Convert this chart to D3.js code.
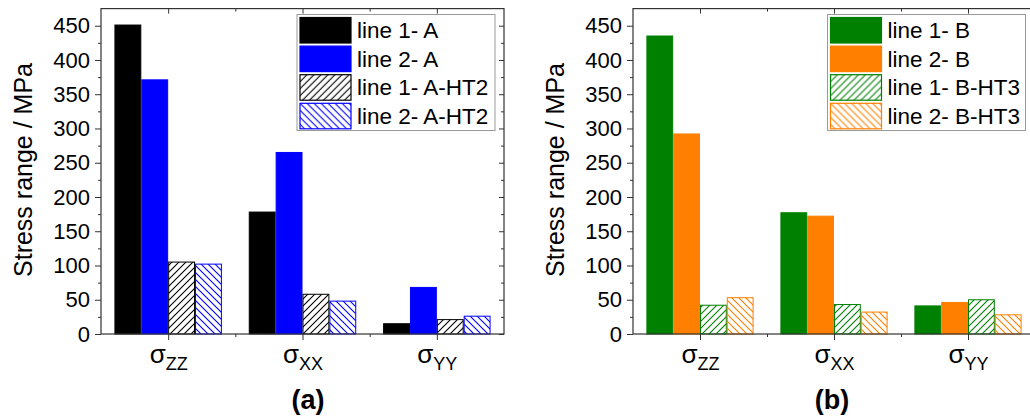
<!DOCTYPE html>
<html>
<head>
<meta charset="utf-8">
<script src="https://cdn.jsdelivr.net/npm/d3@7"></script>
<style>
  body { margin: 0; background: #fff; }
  svg { display: block; font-family: 'Liberation Sans', Arial, sans-serif; }
</style>
</head>
<body>
<svg id="chart" width="1030" height="417"></svg>
<script>
// categories (subscripts of sigma) and y ticks
var catSubs = ['ZZ', 'XX', 'YY'];
var yTicks = [0, 50, 100, 150, 200, 250, 300, 350, 400, 450];

// panel (a)
var namesA = ['line 1- A', 'line 2- A', 'line 1- A-HT2', 'line 2- A-HT2'];
var line1A = [451, 178, 15];
var line2A = [371, 265, 68];
var line1AHT2 = [105, 58, 21];
var line2AHT2 = [102, 48, 26];

// panel (b)
var namesB = ['line 1- B', 'line 2- B', 'line 1- B-HT3', 'line 2- B-HT3'];
var line1B = [435, 177, 41];
var line2B = [292, 172, 46];
var line1BHT3 = [42, 43, 50];
var line2BHT3 = [53, 32, 28];

var svg = d3.select('#chart');
var defs = svg.append('defs');

function hatch(id, color, dir) {
  var p = defs.append('pattern')
    .attr('id', id)
    .attr('patternUnits', 'userSpaceOnUse')
    .attr('width', 7)
    .attr('height', 7);
  p.append('rect').attr('width', 7).attr('height', 7).attr('fill', '#fff');
  var d = dir === 'up'
    ? 'M0,7 L7,0 M-1,1 L1,-1 M6,8 L8,6'
    : 'M0,0 L7,7 M-1,6 L1,8 M6,-1 L8,1';
  p.append('path').attr('d', d).attr('stroke', color).attr('stroke-width', 1.1);
  return 'url(#' + id + ')';
}

var black = '#000000', blue = '#0000ff', green = '#008000', orange = '#ff8000';

function drawPanel(cfg) {
  var g = svg.append('g');
  var x = d3.scaleLinear().domain([0.5, 3.5]).range([cfg.x0, cfg.x1]);
  var y = d3.scaleLinear().domain([0, 475]).range([334, 8.6]);
  var step = x(2) - x(1);
  var bw = step * 0.8 / 4;

  // bars
  cfg.series.forEach(function(s, si) {
    g.selectAll(null)
      .data(s.values)
      .enter().append('rect')
      .attr('x', function(d, i) { return x(i + 1) - 2 * bw + si * bw + 0.5; })
      .attr('width', bw - 1)
      .attr('y', function(d) { return y(d); })
      .attr('height', function(d) { return y(0) - y(d); })
      .attr('fill', s.fill)
      .attr('stroke', s.color)
      .attr('stroke-width', 1);
  });

  var axisColor = '#333';
  var minorY = d3.range(25, 475, 50);
  var minorX = [1.5, 2.5];

  function styleAxis(sel) {
    sel.select('.domain').remove();
    sel.selectAll('line').attr('stroke', axisColor);
    sel.selectAll('text').attr('fill', '#000');
  }

  // left axis
  g.append('g').attr('transform', 'translate(' + cfg.x0 + ',0)')
    .call(d3.axisLeft(y).tickValues(yTicks).tickSize(6).tickPadding(5))
    .attr('font-size', 22).attr('font-family', null)
    .call(styleAxis);
  g.append('g').attr('transform', 'translate(' + cfg.x0 + ',0)')
    .call(d3.axisLeft(y).tickValues(minorY).tickSize(3).tickFormat(''))
    .call(styleAxis);
  // right axis (inward ticks)
  g.append('g').attr('transform', 'translate(' + cfg.x1 + ',0)')
    .call(d3.axisLeft(y).tickValues(yTicks).tickSize(5).tickFormat(''))
    .call(styleAxis);
  g.append('g').attr('transform', 'translate(' + cfg.x1 + ',0)')
    .call(d3.axisLeft(y).tickValues(minorY).tickSize(3).tickFormat(''))
    .call(styleAxis);
  // bottom axis
  var bottom = g.append('g').attr('transform', 'translate(0,' + y(0) + ')')
    .call(d3.axisBottom(x).tickValues([1, 2, 3]).tickSize(6).tickFormat(''))
    .call(styleAxis);
  g.append('g').attr('transform', 'translate(0,' + y(0) + ')')
    .call(d3.axisBottom(x).tickValues(minorX).tickSize(3).tickFormat(''))
    .call(styleAxis);
  // top axis (inward ticks)
  g.append('g').attr('transform', 'translate(0,' + y(475) + ')')
    .call(d3.axisBottom(x).tickValues([1, 2, 3]).tickSize(5).tickFormat(''))
    .call(styleAxis);
  g.append('g').attr('transform', 'translate(0,' + y(475) + ')')
    .call(d3.axisBottom(x).tickValues(minorX).tickSize(3).tickFormat(''))
    .call(styleAxis);

  // category labels: sigma with subscript
  bottom.selectAll('.tick').each(function(d) {
    var t = d3.select(this).append('text')
      .attr('y', 29)
      .attr('text-anchor', 'middle')
      .attr('fill', '#000')
      .attr('font-size', 26);
    t.append('tspan').text('\u03c3');
    t.append('tspan').attr('font-size', 18).attr('dy', 7).text(catSubs[d - 1]);
  });

  // frame
  g.append('rect')
    .attr('x', cfg.x0).attr('y', y(475))
    .attr('width', cfg.x1 - cfg.x0).attr('height', y(0) - y(475))
    .attr('fill', 'none').attr('stroke', axisColor).attr('stroke-width', 1.2);

  // y title
  g.append('text')
    .attr('transform', 'translate(' + (cfg.x0 - 69) + ',' + 170 + ') rotate(-90)')
    .attr('text-anchor', 'middle')
    .attr('font-size', 25)
    .text('Stress range / MPa');

  // panel label
  g.append('text')
    .attr('x', cfg.labelX).attr('y', 409)
    .attr('text-anchor', 'middle')
    .attr('font-size', 27).attr('font-weight', 'bold')
    .text(cfg.label);

  // legend
  var lg = g.append('g').attr('transform', 'translate(' + cfg.legX + ',14)');
  lg.append('rect')
    .attr('x', 0.5).attr('y', 0.5).attr('width', 198).attr('height', 116)
    .attr('fill', '#fff').attr('stroke', '#999').attr('stroke-width', 1);
  cfg.series.forEach(function(s, i) {
    var row = lg.append('g').attr('transform', 'translate(3.5,' + (3.5 + i * 28.6) + ')');
    row.append('rect')
      .attr('width', 51).attr('height', 25.5)
      .attr('fill', s.fill).attr('stroke', s.color).attr('stroke-width', 1.2);
    row.append('text')
      .attr('x', 57).attr('y', 20.5)
      .attr('font-size', 22.5)
      .text(s.name);
  });
}

drawPanel({
  x0: 101, x1: 504, labelX: 308, label: '(a)', legX: 296.5,
  series: [
    { name: namesA[0], values: line1A, color: black, fill: black },
    { name: namesA[1], values: line2A, color: blue, fill: blue },
    { name: namesA[2], values: line1AHT2, color: black, fill: hatch('hA1', black, 'up') },
    { name: namesA[3], values: line2AHT2, color: blue, fill: hatch('hA2', blue, 'down') }
  ]
});

drawPanel({
  x0: 633, x1: 1035, labelX: 832, label: '(b)', legX: 827,
  series: [
    { name: namesB[0], values: line1B, color: green, fill: green },
    { name: namesB[1], values: line2B, color: orange, fill: orange },
    { name: namesB[2], values: line1BHT3, color: green, fill: hatch('hB1', green, 'up') },
    { name: namesB[3], values: line2BHT3, color: orange, fill: hatch('hB2', orange, 'down') }
  ]
});
</script>
</body>
</html>
